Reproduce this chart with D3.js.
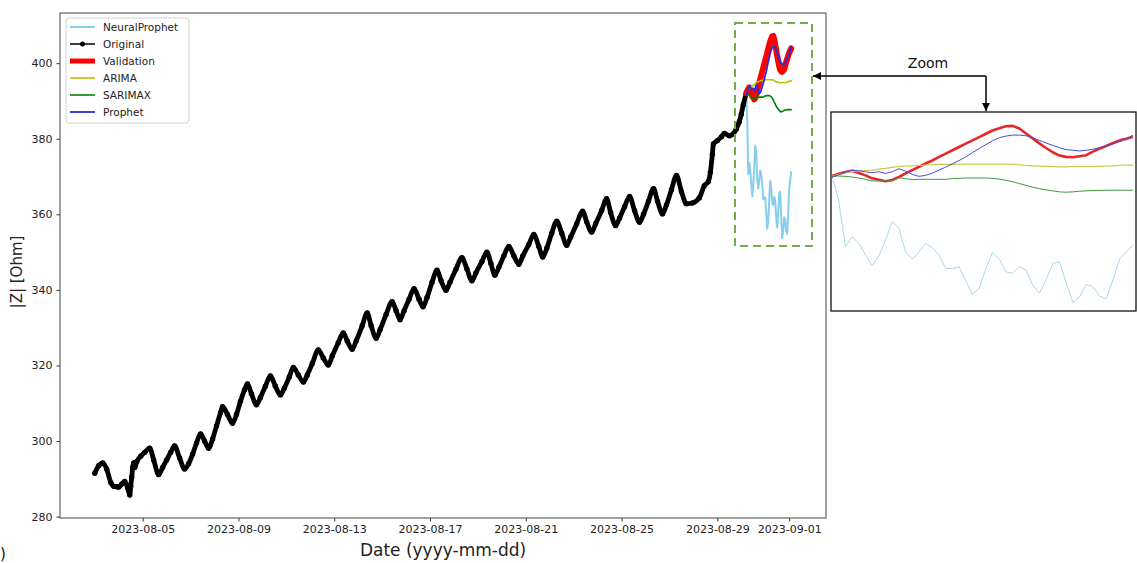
<!DOCTYPE html>
<html>
<head>
<meta charset="utf-8">
<script src="https://cdn.jsdelivr.net/npm/d3@7"></script>
<style>
body { margin: 0; background: #fff; }
svg { display: block; font-family: "DejaVu Sans", sans-serif; }
</style>
</head>
<body>
<script>
// ---- data ----
var startDate = new Date(2023, 7, 3, 0, 0);   // first measurement
var HOUR = 3600 * 1000;

// Original series: hours after 2023-08-03 00:00 and |Z| (Ohm)
var origHours = [0, 4, 8, 12, 16, 19, 22, 24, 27, 30, 33, 35, 36, 37, 38, 39, 40, 42, 46, 50,
  55, 59, 64, 68, 72, 76, 80, 85, 90, 94, 98, 102, 106, 110, 114, 118, 122, 126, 128, 133,
  138, 142, 146, 150, 153, 157, 162, 166, 171, 176, 181, 186, 190, 195, 199, 204, 209, 213, 218, 224,
  229, 234, 238, 244, 249, 253, 258, 262, 268, 273, 277, 282, 286, 292, 298, 302, 306, 310, 315, 320,
  325, 329, 333, 338, 343, 347, 352, 356, 362, 368, 373, 378, 382, 388, 393, 397, 401, 405, 410, 415,
  420, 425, 429, 435, 440, 445, 449, 453, 458, 463, 468, 473, 477, 483, 489, 493, 498, 502, 508, 513,
  517, 522, 526, 531, 536, 541, 546, 550, 555, 560, 564, 569, 573, 578, 583, 588, 593, 599, 606, 611,
  615, 617, 619, 620, 624, 628, 631, 636, 640, 643, 646, 648, 650, 653];
var origValues = [291.5, 293.5, 294.2, 292.5, 289.0, 288.0, 287.9, 287.8, 288.6, 289.3, 287.5, 285.7, 288.0, 290.5, 293.0, 294.2, 293.0, 294.5, 296.0, 297.0,
  298.1, 295.0, 291.1, 293.0, 295.0, 297.0, 298.7, 295.5, 292.6, 294.0, 296.5, 299.5, 301.9, 300.0, 298.1, 300.5, 304.0, 307.5, 309.1, 307.0,
  304.7, 307.0, 310.5, 313.5, 315.1, 312.5, 309.6, 311.5, 314.5, 317.2, 314.5, 312.2, 314.0, 317.0, 319.5, 317.5, 315.6, 317.5, 320.5, 324.1,
  322.0, 320.1, 322.5, 326.0, 328.6, 326.5, 324.3, 326.5, 330.5, 333.9, 330.5, 327.2, 329.5, 333.5, 336.9, 334.5, 332.1, 334.5, 337.5, 340.3,
  337.5, 335.5, 338.0, 342.0, 345.2, 342.5, 339.9, 342.0, 345.5, 348.5, 345.5, 342.4, 344.5, 347.5, 350.0, 347.0, 343.9, 346.0, 349.0, 351.5,
  349.0, 346.8, 349.0, 352.0, 354.7, 351.5, 348.7, 351.0, 355.0, 358.2, 355.0, 351.8, 354.0, 357.5, 360.8, 358.0, 355.3, 357.5, 361.0, 364.1,
  360.5, 357.0, 359.0, 362.0, 364.7, 361.0, 357.9, 360.0, 363.5, 366.8, 363.5, 360.1, 362.5, 366.5, 370.3, 366.0, 362.8, 363.0, 364.4, 367.6,
  368.7, 371.1, 375.9, 378.6, 379.5, 380.5, 381.4, 380.8, 381.3, 382.6, 384.5, 386.5, 389.0, 392.0];

// Forecast window: hourly values starting at this hour offset
var forecastStartHour = 653;
var neuralValues = [392.0, 384.5, 370.6, 373.6, 371.6, 368.1, 364.8, 367.8, 372.6, 378.2, 376.2, 369.1, 366.8, 368.9, 371.6, 370.3,
  368.0, 364.0, 364.0, 364.5, 360.2, 356.2, 358.0, 364.0, 368.8, 366.8, 363.0, 362.5, 364.6, 363.5, 359.0, 356.5,
  360.5, 365.5, 366.0, 359.7, 353.7, 355.4, 359.2, 358.5, 355.6, 354.8, 360.5, 366.8, 369.0, 371.1];
var validationValues = [392.0, 392.7, 393.2, 393.6, 392.9, 392.2, 391.3, 390.9, 390.4, 390.8, 391.7, 392.8, 393.8, 394.8, 395.8, 396.7,
  397.8, 398.8, 399.8, 400.8, 401.8, 402.8, 403.8, 404.8, 405.8, 406.5, 407.1, 407.2, 406.4, 404.9, 403.4, 401.9,
  400.5, 399.2, 398.2, 397.8, 397.7, 398.0, 398.3, 399.4, 400.3, 401.1, 402.0, 402.8, 403.3, 403.9];
var arimaValues = [392.0, 392.5, 393.0, 393.4, 393.5, 393.7, 393.8, 394.1, 394.3, 394.6, 394.9, 395.0, 395.1, 395.2, 395.3, 395.4,
  395.5, 395.5, 395.5, 395.6, 395.6, 395.6, 395.6, 395.6, 395.6, 395.6, 395.6, 395.6, 395.4, 395.2, 395.1, 395.0,
  394.9, 394.9, 394.8, 394.8, 394.9, 394.9, 394.9, 394.9, 394.9, 395.0, 395.1, 395.2, 395.3, 395.3];
var sarimaxValues = [392.0, 392.0, 391.9, 391.7, 391.4, 391.0, 390.5, 390.5, 390.5, 390.5, 391.5, 391.2, 390.9, 391.0, 391.0, 391.0,
  391.0, 391.0, 391.2, 391.3, 391.4, 391.4, 391.4, 391.4, 391.3, 391.1, 390.7, 390.3, 389.7, 389.2, 388.6, 388.2,
  387.8, 387.5, 387.2, 387.1, 387.2, 387.4, 387.5, 387.6, 387.6, 387.7, 387.7, 387.7, 387.7, 387.7];
var prophetValues = [391.6, 392.4, 393.1, 393.8, 393.6, 393.3, 393.0, 393.3, 392.8, 393.3, 394.2, 393.5, 392.5, 391.9, 392.2, 392.9,
  393.8, 394.7, 395.7, 396.7, 397.8, 399.1, 400.3, 401.5, 402.7, 403.6, 404.1, 404.4, 404.4, 404.2, 403.5, 402.8,
  402.0, 401.3, 400.6, 400.0, 399.8, 399.6, 399.8, 400.1, 400.6, 401.2, 401.7, 402.4, 403.2, 404.4];

var xTickDates = ["2023-08-05", "2023-08-09", "2023-08-13", "2023-08-17", "2023-08-21", "2023-08-25", "2023-08-29", "2023-09-01"];
var yTickValues = [280, 300, 320, 340, 360, 380, 400];

// ---- build points ----
function hourToDate(h) { return new Date(startDate.getTime() + h * HOUR); }
var original = origHours.map(function(h, i) { return { t: hourToDate(h), v: origValues[i] }; });
function forecast(vals) {
  return vals.map(function(v, i) { return { t: hourToDate(forecastStartHour + i), v: v }; });
}

var series = [
  { name: "NeuralProphet", data: forecast(neuralValues), color: "#87ceeb", width: 2, insetColor: "#a9d9ea", insetWidth: 1 },
  { name: "Original", data: original, color: "#000", width: 4.8, marker: true },
  { name: "Validation", data: forecast(validationValues), color: "#ff0000", width: 6, insetColor: "#e8262a", insetWidth: 2.6 },
  { name: "ARIMA", data: forecast(arimaValues), color: "#bfbf00", width: 1.6, insetColor: "#cccc55", insetWidth: 1.2 },
  { name: "SARIMAX", data: forecast(sarimaxValues), color: "#008000", width: 1.6, insetColor: "#3a9a3a", insetWidth: 1 },
  { name: "Prophet", data: forecast(prophetValues), color: "#2b2bdd", width: 1.8, insetColor: "#4a4ad8", insetWidth: 1 }
];

// ---- layout ----
var W = 1137, H = 563;
var plot = { left: 60, right: 826, top: 13, bottom: 518 };

var svg = d3.select("body").append("svg").attr("width", W).attr("height", H);

var allPts = [];
series.forEach(function(s) { allPts = allPts.concat(s.data); });
var tExt = d3.extent(allPts, function(d) { return d.t; });
var vExt = d3.extent(allPts, function(d) { return d.v; });
var tPad = (tExt[1] - tExt[0]) * 0.05;
var vPad = (vExt[1] - vExt[0]) * 0.05;

var x = d3.scaleTime()
  .domain([new Date(tExt[0].getTime() - tPad), new Date(tExt[1].getTime() + tPad)])
  .range([plot.left, plot.right]);
var y = d3.scaleLinear()
  .domain([vExt[0] - vPad, vExt[1] + vPad])
  .range([plot.bottom, plot.top]);

var parseDay = d3.timeParse("%Y-%m-%d");
var xAxis = d3.axisBottom(x)
  .tickValues(xTickDates.map(parseDay))
  .tickFormat(d3.timeFormat("%Y-%m-%d"))
  .tickSize(3.5).tickPadding(4).tickSizeOuter(0);
var yAxis = d3.axisLeft(y)
  .tickValues(yTickValues)
  .tickSize(3.5).tickPadding(4).tickSizeOuter(0);

var gx = svg.append("g").attr("transform", "translate(0," + plot.bottom + ")").call(xAxis);
var gy = svg.append("g").attr("transform", "translate(" + plot.left + ",0)").call(yAxis);
[gx, gy].forEach(function(g) {
  g.select(".domain").remove();
  g.selectAll(".tick line").attr("stroke", "#333");
  g.selectAll(".tick text").attr("fill", "#222").attr("font-size", "11px").attr("font-family", "DejaVu Sans");
});

svg.append("defs").append("clipPath").attr("id", "clipMain")
  .append("rect").attr("x", plot.left).attr("y", plot.top)
  .attr("width", plot.right - plot.left).attr("height", plot.bottom - plot.top);

var line = d3.line()
  .x(function(d) { return x(d.t); })
  .y(function(d) { return y(d.v); });

var gMain = svg.append("g").attr("clip-path", "url(#clipMain)");
series.forEach(function(s) {
  var l = line.curve(s.marker ? d3.curveMonotoneX : d3.curveLinear);
  gMain.append("path")
    .datum(s.data)
    .attr("d", l)
    .attr("fill", "none")
    .attr("stroke", s.color)
    .attr("stroke-width", s.width)
    .attr("stroke-linejoin", "round")
    .attr("stroke-linecap", "round");
  if (s.marker) {
    gMain.selectAll(null)
      .data(s.data)
      .enter()
      .append("circle")
      .attr("cx", function(d) { return x(d.t); })
      .attr("cy", function(d) { return y(d.v); })
      .attr("r", 2.7)
      .attr("fill", "#000");
  }
});

// frame
svg.append("rect")
  .attr("x", plot.left).attr("y", plot.top)
  .attr("width", plot.right - plot.left).attr("height", plot.bottom - plot.top)
  .attr("fill", "none").attr("stroke", "#444").attr("stroke-width", 1);

// axis labels
svg.append("text")
  .attr("x", (plot.left + plot.right) / 2).attr("y", 556)
  .attr("text-anchor", "middle").attr("font-size", "17px").attr("fill", "#222")
  .text("Date (yyyy-mm-dd)");
svg.append("text")
  .attr("transform", "translate(22,272) rotate(-90)")
  .attr("text-anchor", "middle").attr("font-size", "15px").attr("fill", "#222")
  .text("|Z| [Ohm]");

// legend
var leg = svg.append("g").attr("transform", "translate(66,18)");
leg.append("rect").attr("width", 123).attr("height", 105).attr("rx", 3)
  .attr("fill", "#fff").attr("fill-opacity", 0.8).attr("stroke", "#d0d0d0");
series.forEach(function(s, i) {
  var gy0 = 9 + i * 17;
  leg.append("line").attr("x1", 4).attr("x2", 29).attr("y1", gy0).attr("y2", gy0)
    .attr("stroke", s.color).attr("stroke-width", s.marker ? 1.5 : Math.min(s.width, 5));
  if (s.marker) leg.append("circle").attr("cx", 16.5).attr("cy", gy0).attr("r", 2.5).attr("fill", "#000");
  leg.append("text").attr("x", 37).attr("y", gy0 + 4).attr("font-size", "10.5px").attr("fill", "#222").text(s.name);
});

// zoom window marker on the main plot
svg.append("rect")
  .attr("x", 735).attr("y", 23).attr("width", 77).attr("height", 223)
  .attr("fill", "none").attr("stroke", "#70ad47").attr("stroke-width", 2)
  .attr("stroke-dasharray", "8,5");

// inset
var inset = { left: 831, right: 1136, top: 112, bottom: 311 };
var fcData = series[2].data;
var xi = d3.scaleTime()
  .domain(d3.extent(fcData, function(d) { return d.t; }))
  .range([inset.left + 1, inset.right - 3]);
var yi = d3.scaleLinear().domain([351.1, 411.4]).range([inset.bottom, inset.top]);
svg.select("defs").append("clipPath").attr("id", "clipInset")
  .append("rect").attr("x", inset.left).attr("y", inset.top)
  .attr("width", inset.right - inset.left).attr("height", inset.bottom - inset.top);
var lineI = d3.line()
  .x(function(d) { return xi(d.t); })
  .y(function(d) { return yi(d.v); });
var gIn = svg.append("g").attr("clip-path", "url(#clipInset)");
series.forEach(function(s) {
  if (s.marker) return;
  gIn.append("path")
    .datum(s.data)
    .attr("d", lineI)
    .attr("fill", "none")
    .attr("stroke", s.insetColor)
    .attr("stroke-width", s.insetWidth)
    .attr("stroke-linejoin", "round");
});
svg.append("rect")
  .attr("x", inset.left).attr("y", inset.top)
  .attr("width", inset.right - inset.left).attr("height", inset.bottom - inset.top)
  .attr("fill", "none").attr("stroke", "#111").attr("stroke-width", 1.3);

// arrows
var defs = svg.select("defs");
defs.append("marker").attr("id", "arrow").attr("viewBox", "0 0 10 10")
  .attr("refX", 10).attr("refY", 5).attr("markerWidth", 8).attr("markerHeight", 8)
  .attr("markerUnits", "userSpaceOnUse").attr("orient", "auto")
  .append("path").attr("d", "M0,0 L10,5 L0,10 Z").attr("fill", "#000");
svg.append("line").attr("x1", 986).attr("y1", 76).attr("x2", 813).attr("y2", 76)
  .attr("stroke", "#000").attr("stroke-width", 1.5).attr("marker-end", "url(#arrow)");
svg.append("line").attr("x1", 986).attr("y1", 76).attr("x2", 986).attr("y2", 111)
  .attr("stroke", "#000").attr("stroke-width", 1.5).attr("marker-end", "url(#arrow)");
svg.append("text").attr("x", 928).attr("y", 68).attr("text-anchor", "middle")
  .attr("font-size", "14px").attr("fill", "#111").text("Zoom");

// panel label: only its closing bracket shows at the left edge
svg.append("text").attr("x", 0).attr("y", 559)
  .attr("font-size", "15px").attr("fill", "#111").text(")");
</script>
</body>
</html>
